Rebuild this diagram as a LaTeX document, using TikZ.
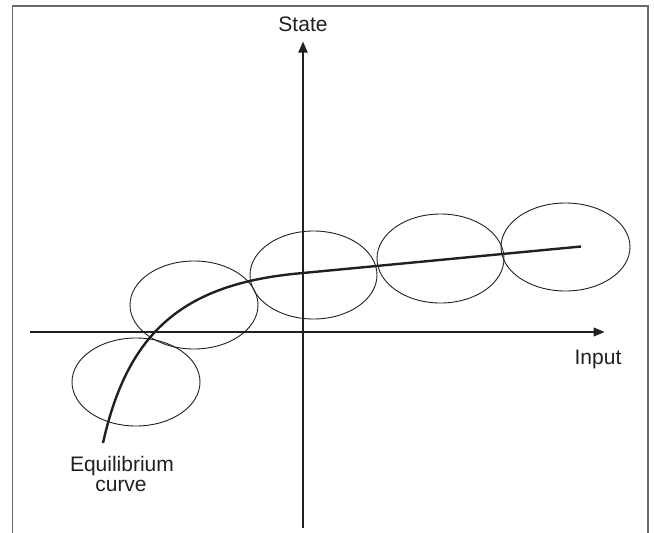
\documentclass[tikz,border=0pt]{standalone}
\usepackage{fontspec}
\setmainfont{Liberation Sans}
\usetikzlibrary{arrows.meta,shapes.geometric}
\definecolor{ink}{HTML}{231F20}
\definecolor{framegray}{HTML}{6A6A6A}
\tikzset{
  region/.style={ellipse, draw=ink, line width=0.9pt, inner sep=0pt,
    minimum width=128pt, minimum height=88pt},
  axis/.style={draw=ink, -{Triangle[length=11pt,width=9pt]}},
  lbl/.style={text=ink, font=\fontsize{21}{23}\selectfont, inner sep=0pt, anchor=base},
  eqcurve/.style={draw=ink, line width=2.4pt},
  frameline/.style={draw=framegray, line width=1.3pt}
}
\begin{document}
\begin{tikzpicture}[x=1pt,y=-1pt]
\useasboundingbox (0,0) rectangle (654,533);
% frame (open at bottom)
\draw[frameline] (12.7,533) -- (12.7,6) -- (648,6) -- (648,533);
% axes
\coordinate (ybot) at (303,528);
\coordinate (ytop) at (303,41.5);
\coordinate (xleft) at (30,332);
\coordinate (xright) at (604.5,332);
\draw[axis, line width=1.8pt] (ybot) -- (ytop);
\draw[axis, line width=1.1pt] (xleft) -- (xright);
% ellipses
\node[region] (e1) at (136,382) {};
\node[region] (e2) at (194,305) {};
\node[region, minimum width=127pt] (e3) at (313.5,275) {};
\node[region, minimum width=127pt, minimum height=89pt] (e4) at (440.5,258.5) {};
\node[region, minimum width=129pt] (e5) at (565.5,247) {};
% equilibrium curve
\coordinate (c0) at (103,443);
\coordinate (c1) at (303,273);
\coordinate (c2) at (581,246.5);
\draw[eqcurve] (c0) .. controls (128,330) and (185,283) .. (c1) -- (c2);
% labels
\node[lbl] (state) at (303,31) {State};
\node[lbl] (input) at (598,364) {Input};
\node[lbl] (eq1) at (122,471) {Equilibrium};
\node[lbl] (eq2) at (121,491.5) {curve};
\end{tikzpicture}
\end{document}
